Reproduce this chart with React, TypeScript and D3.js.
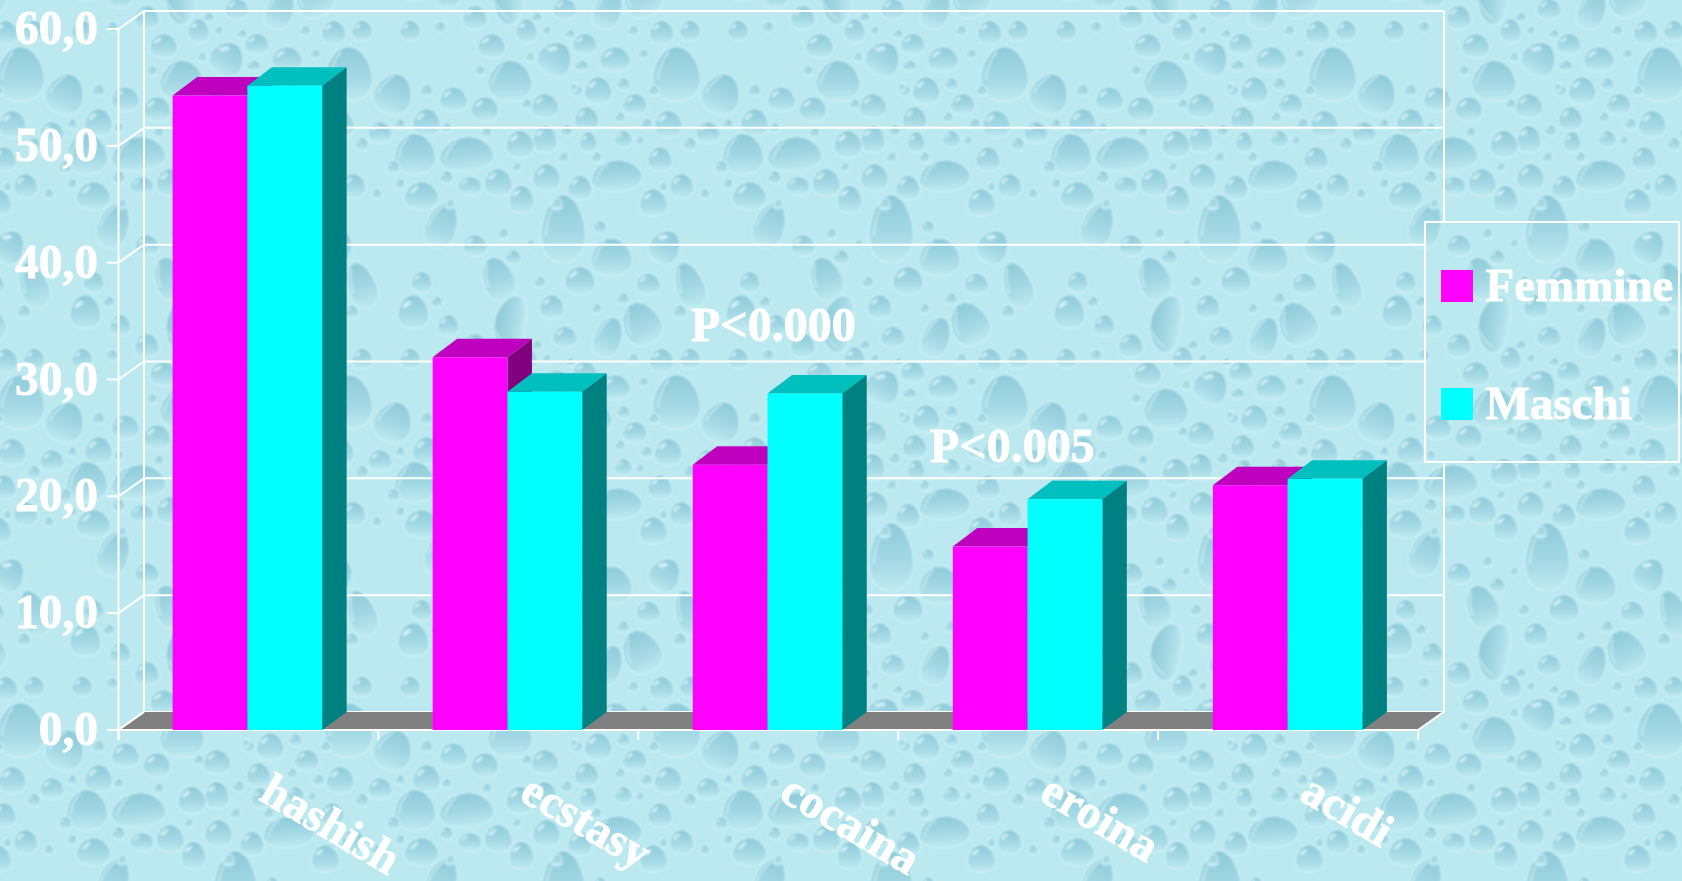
import React from "react";
import * as d3 from "d3";

const categories = ["hashish", "ecstasy", "cocaina", "eroina", "acidi"];
const seriesNames = ["Femmine", "Maschi"];
const femmine = [54.3, 31.9, 22.7, 15.7, 20.95];
const maschi = [55.15, 28.95, 28.8, 19.75, 21.5];
const yTicks = [0, 10, 20, 30, 40, 50, 60];
const tickLabels = ["0,0", "10,0", "20,0", "30,0", "40,0", "50,0", "60,0"];
const notes = [
  { text: "P<0.000", x: 691, y: 340.5 },
  { text: "P<0.005", x: 930, y: 462 },
];
// water-drop wallpaper, read from the 328px tile: cx, cy, rx, ry, rotation (3x crop units)
const drops: number[][] = [
  [580,50,65,100,0],[725,135,60,55,0],[885,105,45,50,30],[385,200,45,65,-20],[630,205,45,40,0],[960,220,40,70,-20],
  [835,215,35,30,0],[420,335,85,45,-80],[545,285,35,35,0],[715,375,40,60,20],[815,335,55,65,-25],[585,375,35,30,0],
  [315,400,35,35,0],[470,440,30,35,0],[365,485,40,35,0],[645,480,35,30,0],[875,445,35,35,0],[960,440,30,30,0],
  [735,525,45,35,0],[555,525,50,50,30],[420,590,65,60,0],[920,570,70,80,0],[635,545,20,15,0],[685,620,40,40,0],
  [525,665,40,35,0],[345,675,40,35,0],[250,645,40,35,0],[170,715,40,40,0],[70,630,55,60,20],[650,705,35,35,0],
  [795,660,35,30,0],[895,720,40,40,0],[525,765,35,40,0],[450,780,40,40,0],[135,810,60,60,0],[290,810,80,50,-5],
  [30,745,35,30,0],[385,895,40,40,0],[300,905,35,25,0],[155,935,50,40,0],[530,880,40,40,0],[630,910,35,35,0],
  [740,875,75,45,-5],[870,825,35,35,0],[935,905,35,35,0],[850,955,40,40,0],[655,775,25,30,0],[455,945,35,40,0],
  [760,765,25,25,0],[155,210,30,30,0],[235,340,30,30,0],[130,300,45,50,0],[120,440,30,30,0],[215,40,45,70,20],
  [315,100,35,30,0],[430,135,22,20,0],[510,210,16,16,0],[500,400,16,14,0],[690,45,18,18,0],[760,260,16,16,0],
  [930,300,18,18,0],[620,620,16,16,0],[760,600,18,18,0],[200,270,16,16,0],[210,430,16,16,0],[170,620,18,16,0],
  [70,850,18,18,0],[230,880,18,18,0],[590,740,16,16,0],[830,720,16,16,0],[960,780,18,18,0],[470,660,14,14,0],
  [400,65,14,14,0],[480,95,12,12,0],[680,290,14,14,0],[530,440,12,12,0],[600,450,14,12,0],[790,440,14,14,0],
  [820,510,14,12,0],[480,520,12,12,0],[330,560,14,14,0],[610,610,10,10,0],[850,620,14,14,0],[750,700,14,14,0],
  [580,820,14,14,0],[350,745,14,14,0],[230,730,14,14,0],[90,720,14,14,0],[440,850,12,12,0],[680,820,14,14,0],
  [810,770,12,12,0],[880,910,12,12,0],[90,900,14,14,0],[20,930,14,14,0],[240,960,12,12,0],[560,960,14,14,0],
];

const W = 1682, H = 881, TILE = 328;
const DX = 25.5, DY = 18;
const BAR_DX = 24.5, BAR_DY = 18.5;
const FRONT = { x0: 118.5, x1: 1418, y0: 730, y1: 29 };

const y = d3.scaleLinear().domain([0, 60]).range([FRONT.y0, FRONT.y1]);
const xTick = d3.scaleLinear().domain([0, categories.length]).range([FRONT.x0, FRONT.x1]);
const x0 = d3.scaleBand<string>().domain(categories).range([FRONT.x0 - 0.5, FRONT.x1 - 1]).paddingInner(0.425).paddingOuter(0.21);
const x1 = d3.scaleBand<string>().domain(seriesNames).range([0, x0.bandwidth()]);

const palette = [
  { front: "#FF00FF", top: "#BF00BF", side: "#800080" },
  { front: "#00FFFF", top: "#00BFBF", side: "#008080" },
];
const FONT = "'Liberation Serif','Times New Roman',serif";
const pts = (a: number[][]) => a.map((p) => p.join(",")).join(" ");

function eggPath(rx: number, ry: number) {
  return `M0,${-ry}C${rx * 0.62},${-ry} ${rx},${-ry * 0.25} ${rx},${ry * 0.2}C${rx},${ry * 0.72} ${rx * 0.55},${ry} 0,${ry}C${-rx * 0.55},${ry} ${-rx},${ry * 0.72} ${-rx},${ry * 0.2}C${-rx},${-ry * 0.25} ${-rx * 0.62},${-ry} 0,${-ry}Z`;
}

function Drop({ d }: { d: number[] }) {
  const [zx, zy, zrx, zry, rot] = d;
  const cx = zx / 3 - 61, cy = zy / 3, rx = zrx / 3, ry = zry / 3;
  const offs = [-TILE, 0, TILE];
  const big = Math.max(rx, ry) > 17;
  const hx = -rx * 0.45, hy = -ry * 0.45;
  return (
    <>
      {offs.flatMap((ox) =>
        offs.map((oy) => {
          const tx = cx + ox, ty = cy + oy;
          if (tx + 40 < 0 || tx - 40 > TILE || ty + 40 < 0 || ty - 40 > TILE) return null;
          return (
            <g key={ox + "_" + oy} transform={`translate(${tx},${ty}) rotate(${rot})`}>
              <path d={eggPath(rx + 1.4, ry + 1.6)} fill="#c9f0f5" />
              <path d={eggPath(rx, ry)} fill="url(#dropFill)" />
              {big ? (
                <path
                  d={`M${-rx * 0.35},${-ry * 0.82}C${-rx * 0.62},${-ry * 0.5} ${-rx * 0.78},${-ry * 0.15} ${-rx * 0.82},${ry * 0.2}`}
                  fill="none" stroke="#dcf7f9" strokeWidth={1.6} opacity={0.7} strokeLinecap="round"
                />
              ) : (
                <ellipse
                  cx={hx} cy={hy} rx={Math.max(1.2, rx * 0.34)} ry={Math.max(0.7, ry * 0.14)}
                  transform={`rotate(-40 ${hx} ${hy})`} fill="#e4fafb" opacity={0.7}
                />
              )}
            </g>
          );
        })
      )}
    </>
  );
}

function Box({ x, w, value, c }: { x: number; w: number; value: number; c: typeof palette[0] }) {
  const t = y(value), b = y(0);
  return (
    <g>
      <polygon points={pts([[x, t], [x + BAR_DX, t - BAR_DY], [x + w + BAR_DX, t - BAR_DY], [x + w, t]])} fill={c.top} />
      <polygon points={pts([[x + w, t], [x + w + BAR_DX, t - BAR_DY], [x + w + BAR_DX, b - DY], [x + w, b]])} fill={c.side} />
      <rect x={x} y={t} width={w} height={b - t} fill={c.front} />
    </g>
  );
}

export default function App() {
  const stroke = { stroke: "#fff", strokeWidth: 2, fill: "none" };
  const textCommon = { fontFamily: FONT, fontWeight: 700, fill: "#fff", stroke: "#fff", strokeWidth: 0.8 } as const;
  return (
    <svg width={W} height={H} viewBox={`0 0 ${W} ${H}`} style={{ position: "fixed", left: 0, top: 0, display: "block" }}>
      <defs>
        <linearGradient id="dropFill" x1="0" y1="0" x2="0" y2="1">
          <stop offset="0" stopColor="#8ecbda" />
          <stop offset="0.6" stopColor="#a5dae5" />
          <stop offset="1" stopColor="#bfe9ef" />
        </linearGradient>
        <filter id="soft" x="-5%" y="-5%" width="110%" height="110%">
          <feGaussianBlur stdDeviation="0.9" />
        </filter>
        <pattern id="water" patternUnits="userSpaceOnUse" x={103} y={212} width={TILE} height={TILE}>
          <rect width={TILE} height={TILE} fill="#bbe9ef" />
          <g filter="url(#soft)">
            {drops.map((d, i) => <Drop key={i} d={d} />)}
          </g>
        </pattern>
      </defs>
      <rect width={W} height={H} fill="url(#water)" />

      {/* back wall and grid */}
      {yTicks.map((t) => (
        <g key={t}>
          <line x1={FRONT.x0 + DX} x2={FRONT.x1 + DX + 0.5} y1={y(t) - DY} y2={y(t) - DY} {...stroke} />
          <line x1={FRONT.x0} x2={FRONT.x0 + DX} y1={y(t)} y2={y(t) - DY} {...stroke} />
          <line x1={107} x2={FRONT.x0} y1={y(t)} y2={y(t)} {...stroke} />
        </g>
      ))}
      <line x1={FRONT.x0} x2={FRONT.x0} y1={y(60)} y2={y(0) + 10} {...stroke} />
      <line x1={FRONT.x0 + DX} x2={FRONT.x0 + DX} y1={y(60) - DY} y2={y(0) - DY} {...stroke} />
      <line x1={FRONT.x1 + DX + 0.5} x2={FRONT.x1 + DX + 0.5} y1={y(60) - DY} y2={y(0) - DY} {...stroke} />

      {/* floor */}
      <polygon
        points={pts([[FRONT.x0, y(0)], [FRONT.x0 + DX, y(0) - DY], [FRONT.x1 + DX, y(0) - DY], [FRONT.x1, y(0)]])}
        fill="#808080"
      />
      <line x1={FRONT.x0} x2={FRONT.x0 + DX} y1={y(0)} y2={y(0) - DY} {...stroke} />
      <line x1={FRONT.x1} x2={FRONT.x1 + DX} y1={y(0)} y2={y(0) - DY} {...stroke} />
      <line x1={107} x2={FRONT.x1} y1={y(0)} y2={y(0)} {...stroke} />
      {d3.range(categories.length + 1).map((i) => (
        <line key={i} x1={xTick(i)} x2={xTick(i)} y1={y(0)} y2={y(0) + 10} {...stroke} />
      ))}

      {/* bars */}
      {categories.map((c, i) => (
        <g key={c}>
          <Box x={(x0(c) as number) + (x1("Femmine") as number)} w={x1.bandwidth()} value={femmine[i]} c={palette[0]} />
          <Box x={(x0(c) as number) + (x1("Maschi") as number)} w={x1.bandwidth()} value={maschi[i]} c={palette[1]} />
        </g>
      ))}

      {/* axis labels */}
      {yTicks.map((t, i) => (
        <text key={t} x={98} y={y(t) + 15} textAnchor="end" fontSize={47.5} {...textCommon}>{tickLabels[i]}</text>
      ))}
      {categories.map((c) => (
        <text
          key={c}
          transform={`translate(${(x0(c) as number) + 85},799) rotate(30.5)`}
          fontSize={47}
          {...textCommon}
        >{c}</text>
      ))}

      {notes.map((n) => (
        <text key={n.text} x={n.x} y={n.y} fontSize={48} {...textCommon}>{n.text}</text>
      ))}

      {/* legend */}
      <rect x={1425} y={222} width={254} height={240} fill="url(#water)" {...{ stroke: "#fff", strokeWidth: 2 }} />
      {seriesNames.map((s, i) => (
        <g key={s}>
          <rect x={1441} y={270 + i * 118} width={32} height={32} fill={palette[i].front} />
          <text x={1485.5} y={301 + i * 118} fontSize={47} {...textCommon}>{s}</text>
        </g>
      ))}
    </svg>
  );
}
